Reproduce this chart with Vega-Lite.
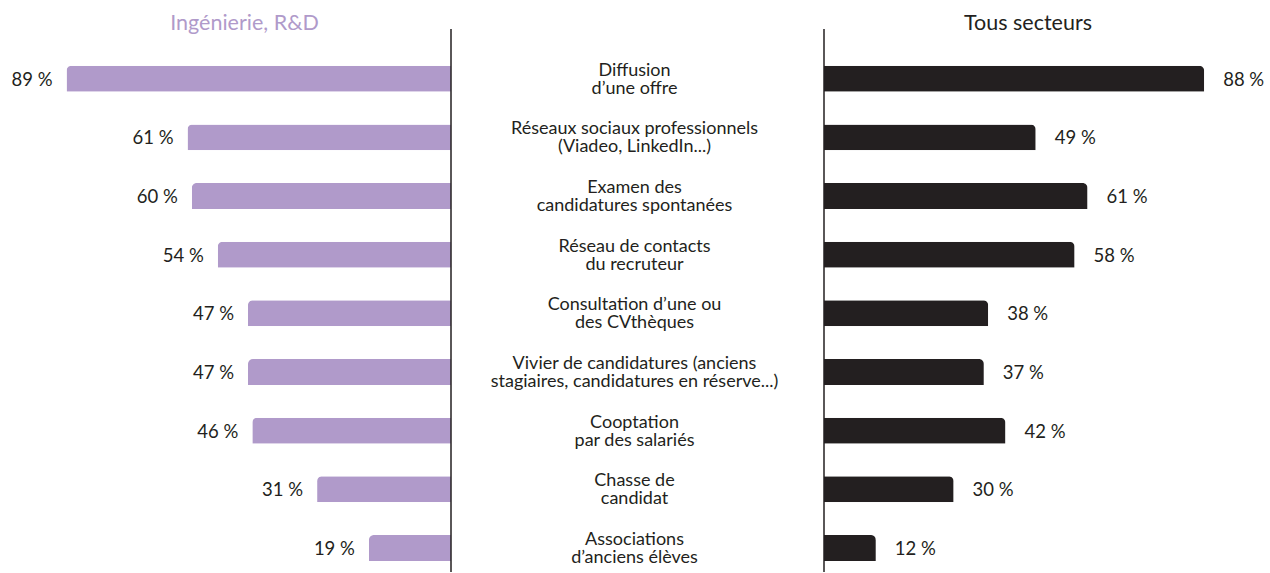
{
  "$schema": "https://vega.github.io/schema/vega-lite/v6.json",
  "padding": {"left": 0, "right": 0, "top": 12, "bottom": 0},
  "background": "white",
  "bounds": "flush",
  "spacing": 0,
  "config": {
    "view": {"stroke": null},
    "font": "Lato",
    "title": {"fontSize": 21.5, "fontWeight": "normal", "font": "Lato", "anchor": "middle", "offset": -6}
  },
  "data": {
    "values": [
      {"cat": "c1", "label": "Diffusion\nd’une offre", "ing": 89, "tous": 88},
      {"cat": "c2", "label": "Réseaux sociaux professionnels\n(Viadeo, LinkedIn...)", "ing": 61, "tous": 49},
      {"cat": "c3", "label": "Examen des\ncandidatures spontanées", "ing": 60, "tous": 61},
      {"cat": "c4", "label": "Réseau de contacts\ndu recruteur", "ing": 54, "tous": 58},
      {"cat": "c5", "label": "Consultation d’une ou\ndes CVthèques", "ing": 47, "tous": 38},
      {"cat": "c6", "label": "Vivier de candidatures (anciens\nstagiaires, candidatures en réserve...)", "ing": 47, "tous": 37},
      {"cat": "c7", "label": "Cooptation\npar des salariés", "ing": 46, "tous": 42},
      {"cat": "c8", "label": "Chasse de\ncandidat", "ing": 31, "tous": 30},
      {"cat": "c9", "label": "Associations\nd’anciens élèves", "ing": 19, "tous": 12}
    ]
  },
  "transform": [
    {"calculate": "datum.ing + ' %'", "as": "ingLabel"},
    {"calculate": "datum.tous + ' %'", "as": "tousLabel"}
  ],
  "hconcat": [
    {
      "width": 451,
      "height": 543,
      "title": {"text": "Ingénierie, R&D", "color": "#b09aca", "dx": 19},
      "layer": [
        {
          "mark": {"type": "bar", "color": "#b09aca", "cornerRadiusTopLeft": 5},
          "encoding": {
            "x": {"field": "ing", "type": "quantitative", "scale": {"domain": [0, 104.4], "reverse": true, "nice": false}, "axis": null},
            "y": {"field": "cat", "type": "nominal", "sort": null, "axis": null, "scale": {"type": "band", "paddingInner": 0.557, "paddingOuter": 0.407, "align": 0.769, "round": false}}
          }
        },
        {
          "mark": {"type": "text", "align": "right", "baseline": "middle", "dx": -14, "dy": 1, "fontSize": 18.5, "color": "#231f20"},
          "encoding": {
            "x": {"field": "ing", "type": "quantitative"},
            "y": {"field": "cat", "type": "nominal", "sort": null},
            "text": {"field": "ingLabel", "type": "nominal"}
          }
        },
        {
          "data": {"values": [{}]},
          "mark": {"type": "rule", "color": "#231f20", "strokeWidth": 1.5},
          "encoding": {"x": {"datum": 0}}
        }
      ]
    },
    {
      "width": 373,
      "height": 543,
      "mark": {"type": "text", "fontSize": 18, "lineBreak": "\n", "lineHeight": 18, "baseline": "middle", "align": "center", "color": "#231f20", "dx": -3, "dy": -8},
      "encoding": {
        "y": {"field": "cat", "type": "nominal", "sort": null, "axis": null, "scale": {"type": "band", "paddingInner": 0.557, "paddingOuter": 0.407, "align": 0.769, "round": false}},
        "text": {"field": "label", "type": "nominal"}
      }
    },
    {
      "width": 446,
      "height": 543,
      "title": {"text": "Tous secteurs", "color": "#231f20", "dx": -19},
      "layer": [
        {
          "mark": {"type": "bar", "color": "#231f20", "cornerRadiusTopRight": 5},
          "encoding": {
            "x": {"field": "tous", "type": "quantitative", "scale": {"domain": [0, 103.24], "nice": false}, "axis": null},
            "y": {"field": "cat", "type": "nominal", "sort": null, "axis": null, "scale": {"type": "band", "paddingInner": 0.557, "paddingOuter": 0.407, "align": 0.769, "round": false}}
          }
        },
        {
          "mark": {"type": "text", "align": "left", "baseline": "middle", "dx": 19, "dy": 1, "fontSize": 18.5, "color": "#231f20"},
          "encoding": {
            "x": {"field": "tous", "type": "quantitative"},
            "y": {"field": "cat", "type": "nominal", "sort": null},
            "text": {"field": "tousLabel", "type": "nominal"}
          }
        },
        {
          "data": {"values": [{}]},
          "mark": {"type": "rule", "color": "#231f20", "strokeWidth": 1.5},
          "encoding": {"x": {"datum": 0}}
        }
      ]
    }
  ]
}
